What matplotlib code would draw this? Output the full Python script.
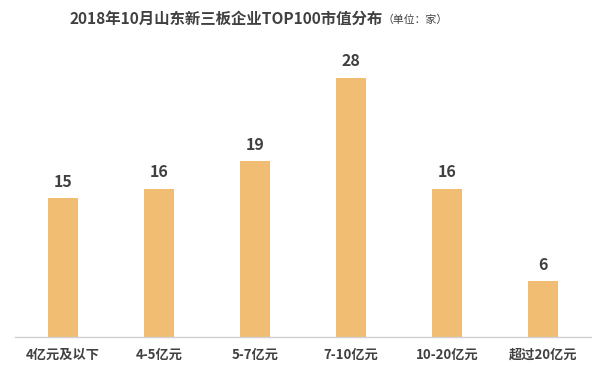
import matplotlib.pyplot as plt
import numpy as np

plt.rcParams['font.family'] = ['Noto Sans CJK SC', 'DejaVu Sans']

categories = ['4亿元及以下', '4-5亿元', '5-7亿元', '7-10亿元', '10-20亿元', '超过20亿元']
counts = [15, 16, 19, 28, 16, 6]

bar_color = '#F1BD72'
text_color = '#404040'

fig = plt.figure(figsize=(6.05, 3.78), dpi=100)
ax = fig.add_axes([15 / 605, 1 - 337 / 378, 576 / 605, 278 / 378])

x = np.arange(len(categories))
bars = ax.bar(x, counts, width=30 / 96, color=bar_color, zorder=2)

for xi, v in zip(x, counts):
    ax.annotate(str(v), (xi, v), xytext=(0, 6), textcoords='offset points',
                ha='center', va='bottom', fontsize=11.5, fontweight='bold',
                color=text_color)

ax.set_xlim(-0.5, len(categories) - 0.5)
ax.set_ylim(0, 30)
ax.set_xticks(x)
ax.set_xticklabels(categories, fontsize=9.5, fontweight='bold', color=text_color)
ax.tick_params(axis='x', length=0, pad=8)
ax.set_yticks([])
for s in ['top', 'right', 'left']:
    ax.spines[s].set_visible(False)
ax.spines['bottom'].set_color('#D0D0D0')
ax.spines['bottom'].set_linewidth(1)

fig.text(70 / 605, 1 - 19 / 378, '2018年10月山东新三板企业TOP100市值分布',
         fontsize=11.1, fontweight='bold', color=text_color, ha='left', va='center')
fig.text(382 / 605, 1 - 20 / 378, '（单位：家）', fontsize=7.8, color=text_color,
         ha='left', va='center')

fig.savefig('out.png', dpi=100)
